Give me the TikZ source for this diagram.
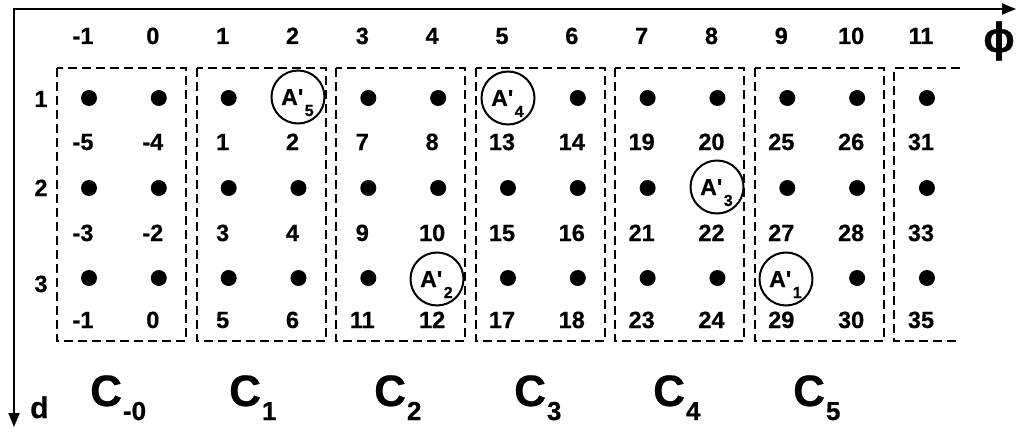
\documentclass[tikz,border=0pt]{standalone}
\usepackage{fontspec}
\setmainfont{Liberation Sans}[BoldFeatures={FakeBold=0.6}]
\usetikzlibrary{arrows.meta}
\begin{document}
\begin{tikzpicture}[x=1pt,y=-1pt,
  num/.style={font=\fontsize{23.5}{23.5}\selectfont\bfseries, inner sep=0pt, anchor=base},
  dotnode/.style={circle, fill=black, minimum size=16pt, inner sep=0pt},
  ring/.style={circle, draw, line width=2pt, minimum size=53pt, inner sep=0pt},
  ringtxt/.style={inner sep=0pt, anchor=base west, font=\fontsize{23}{23}\selectfont\bfseries},
  group/.style={draw, line width=2pt, dash pattern=on 9pt off 5pt},
  axis/.style={line width=2pt, {Triangle[length=14pt,width=11pt]}-{Triangle[length=14pt,width=11pt]}},
  clabel/.style={inner sep=0pt, anchor=base west, font=\fontsize{44}{44}\selectfont\bfseries},
]
\useasboundingbox (0,0) rectangle (1017,433);

% axes
\coordinate (O) at (14,9);
\coordinate (xend) at (1016,9);
\coordinate (yend) at (14,427);
\draw[axis] (xend) -- (O) -- (yend);
\node[inner sep=0pt, font=\fontsize{42}{42}\selectfont\bfseries] (phi) at (999,41) {ϕ};
\node[inner sep=0pt, anchor=base west, font=\fontsize{30}{30}\selectfont\bfseries] (d) at (30,418) {d};

% dashed groups
\foreach \k in {0,...,5} {
  \pgfmathsetmacro\bx{57+139.6*\k}
  \draw[group] (\bx,68) rectangle (\bx+129,341);
}
\draw[group] (960,68) -- (894,68) -- (894,341) -- (960,341);

% column headers
\foreach \c in {-1,...,11} {
  \pgfmathsetmacro\xx{89+69.83*(\c+1)}
  \node[num] (h\c) at (\xx-6,44) {\c};
}
% row labels
\node[num] (r1) at (41,107) {1};
\node[num] (r2) at (41,196) {2};
\node[num] (r3) at (41,292) {3};

% dots and numbers
\foreach \r/\dy/\ny in {1/98/150, 2/188/241, 3/278/328} {
  \foreach \c in {-1,...,11} {
    \pgfmathsetmacro\xx{89+69.83*(\c+1)}
    \pgfmathtruncatemacro\kk{floor((\c+1)/2)}
    \pgfmathtruncatemacro\jj{mod(\c+1,2)}
    \pgfmathtruncatemacro\val{6*(\kk-1)+2*(\r-1)+1+\jj}
    \pgfmathtruncatemacro\isring{(\c==2 && \r==1) || (\c==5 && \r==1) || (\c==8 && \r==2) || (\c==4 && \r==3) || (\c==9 && \r==3)}
    \ifnum\isring=0
      \node[dotnode] (p\c-\r) at (\xx,\dy) {};
    \fi
    \node[num] (n\c-\r) at (\xx-6,\ny) {\val};
  }
}

% circled points
\foreach \name/\xx/\yy/\s in {a5/298/97/5, a4/508/98/4, a3/717/187/3, a2/437/279/2, a1/786/279/1} {
  \node[ring] (\name) at (\xx,\yy) {};
  \node[ringtxt] (\name t) at ([xshift=-17pt,yshift=-8pt]\name.center)
    {A\textquotesingle\kern1.5pt{\fontsize{16}{16}\selectfont\raisebox{-11pt}{\s}}};
}

% C labels
\foreach \name/\xx/\s in {c0/90/-0, c1/229/1, c2/374/2, c3/514/3, c4/653/4, c5/793/5} {
  \node[clabel] (\name) at (\xx,406) {C\kern1pt{\fontsize{26}{26}\selectfont\raisebox{-14pt}{\s}}};
}
\end{tikzpicture}
\end{document}
